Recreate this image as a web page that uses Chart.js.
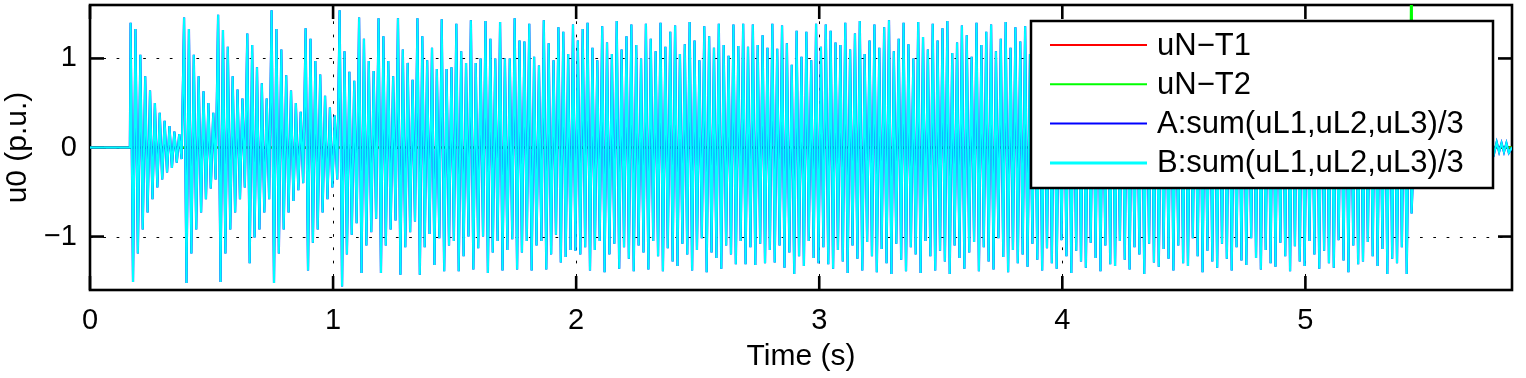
<!DOCTYPE html>
<html>
<head>
<meta charset="utf-8">
<script src="https://cdn.jsdelivr.net/npm/chart.js@4.4.1/dist/chart.umd.min.js"></script>
<style>
  html, body { margin: 0; padding: 0; background: #fff; }
  canvas { display: block; }
</style>
</head>
<body>
<canvas id="u0Chart" width="1526" height="378"></canvas>
<script>
const xTicks = [0, 1, 2, 3, 4, 5];
const yTicks = [-1, 0, 1];
const seriesLabels = ['uN\u2212T1', 'uN\u2212T2', 'A:sum(uL1,uL2,uL3)/3', 'B:sum(uL1,uL2,uL3)/3'];

// fault starts at ~0.167 s, 50 Hz -> one top and one bottom per 20 ms cycle
const faultStart = 0.167;
const cycle = 0.02;

// positive peak of each cycle
const peakTops = [
  1.40, 1.33, 1.04, 0.80, 0.64, 0.50, 0.39, 0.30, 0.24, 0.18, 0.15,
  1.46, 1.33, 1.04, 0.80, 0.63, 0.50, 0.39,
  1.49, 1.32, 1.13, 0.80, 0.65, 0.55,
  1.28, 1.15, 0.90, 0.72, 0.55,
  1.54, 1.33, 1.10, 0.81, 0.64, 0.50, 0.40,
  1.34, 1.22, 0.97, 0.82, 0.58, 0.45, 0.36,
  1.54, 1.08, 0.85, 0.75, 1.46, 1.22, 0.97, 0.86, 1.45, 1.25, 0.97, 0.80, 1.45, 1.10, 0.95, 0.76, 1.45, 1.25, 0.98, 1.12, 0.88,
  1.44, 0.88, 0.90, 1.39, 1.08, 0.95, 1.43, 0.95, 1.00, 1.42, 1.22, 1.00, 1.41, 1.00, 1.00,
  1.45, 1.20, 1.19, 1.39, 1.02, 0.92, 1.43, 1.17, 0.98, 1.35, 1.30, 1.05, 1.38, 1.20, 1.33,
  1.40, 1.12, 0.98, 1.36, 1.18, 1.05, 1.42, 1.10, 1.25, 1.38,
  1.15, 1.00, 1.39, 1.22, 1.08, 1.40, 1.13, 1.30, 1.37, 1.05,
  1.16, 1.41, 1.20, 0.98, 1.36, 1.25, 1.12, 1.39, 1.15, 1.03,
  1.38, 1.14, 1.39, 1.13, 1.38, 1.15, 1.26, 1.12, 1.39, 1.11,
  1.37, 1.17, 0.93, 1.31, 1.02, 1.30, 0.98, 1.39, 1.13, 1.38,
  1.31, 1.18, 1.15, 1.40, 1.10, 1.28, 1.42, 1.05, 1.20, 1.38,
  1.12, 1.35, 1.43, 1.08, 1.22, 1.40, 1.16, 1.00, 1.41, 1.24,
  1.10, 1.39, 1.20, 1.34, 1.42, 1.06, 1.18, 1.37, 1.26, 1.02,
  1.40, 1.15, 1.30, 1.38, 1.08, 1.22, 1.41, 1.12, 1.35, 1.19,
  1.36, 1.05, 1.27, 1.40, 1.14, 1.32, 1.38, 1.00, 1.24, 1.39,
  1.18, 1.30, 1.37, 1.10, 1.25, 1.40, 1.12, 1.33, 1.36, 1.06,
  1.28, 1.39, 1.15, 1.22, 1.38, 1.09, 1.30, 1.37, 1.14, 1.26,
  1.40, 1.11, 1.34, 1.36, 1.05, 1.24, 1.39, 1.17, 1.31, 1.38,
  1.08, 1.27, 1.40, 1.13, 1.29, 1.37, 1.02, 1.25, 1.39, 1.16,
  1.33, 1.38, 1.10, 1.26, 1.40, 1.14, 1.30, 1.36, 1.07, 1.23,
  1.39, 1.18, 1.32, 1.37, 1.04, 1.28, 1.40, 1.12, 1.35, 1.33,
  1.09, 1.26, 1.38, 1.15, 1.30, 1.36, 1.10, 1.24, 1.20, 0.95
];

// negative peak of each cycle
const peakBots = [
  -1.51, -1.19, -0.92, -0.73, -0.58, -0.45, -0.36, -0.28, -0.23, -0.17, -0.13,
  -1.52, -1.19, -0.92, -0.73, -0.58, -0.46, -0.36,
  -1.51, -1.19, -0.92, -0.73, -0.58, -0.45,
  -1.30, -1.01, -0.92, -0.73, -0.58,
  -1.52, -1.19, -0.92, -0.73, -0.60, -0.48, -0.40,
  -1.38, -1.07, -0.92, -0.73, -0.58, -0.45, -0.36,
  -1.56, -1.20, -0.98, -0.85, -1.41, -1.10, -0.95, -0.80, -1.41, -1.10, -0.92, -0.82, -1.43, -1.12, -0.95, -0.83, -1.43, -1.12, -0.97, -1.32, -1.02,
  -1.39, -1.10, -1.05, -1.39, -1.22, -1.00, -1.37, -1.13, -1.00, -1.41, -1.18, -1.05, -1.38, -1.15, -1.03,
  -1.37, -1.18, -1.05, -1.38, -1.10, -1.05, -1.37, -1.20, -0.98, -1.29, -1.23, -1.15, -1.16, -1.20, -1.12,
  -1.38, -1.15, -1.05, -1.40, -1.20, -1.08, -1.36, -1.12, -1.25, -1.39,
  -1.10, -1.18, -1.37, -1.05, -1.22, -1.39, -1.13, -1.28, -1.33, -1.08,
  -1.20, -1.38, -1.15, -1.02, -1.40, -1.18, -1.24, -1.36, -1.10, -1.20,
  -1.31, -1.05, -1.31, -1.12, -1.32, -1.08, -1.30, -1.15, -1.29, -1.10,
  -1.35, -1.18, -1.42, -1.22, -1.33, -1.05, -1.24, -1.30, -1.12, -1.31,
  -1.36, -1.15, -1.28, -1.41, -1.10, -1.25, -1.38, -1.06, -1.22, -1.40,
  -1.14, -1.30, -1.42, -1.08, -1.26, -1.39, -1.12, -1.20, -1.41, -1.05,
  -1.22, -1.38, -1.16, -1.28, -1.42, -1.10, -1.24, -1.36, -1.18, -1.06,
  -1.39, -1.12, -1.28, -1.37, -1.02, -1.23, -1.40, -1.15, -1.30, -1.20,
  -1.34, -1.08, -1.26, -1.38, -1.13, -1.30, -1.36, -1.04, -1.22, -1.41,
  -1.16, -1.28, -1.35, -1.07, -1.24, -1.39, -1.10, -1.31, -1.33, -1.05,
  -1.26, -1.37, -1.12, -1.20, -1.42, -1.08, -1.29, -1.34, -1.14, -1.25,
  -1.38, -1.10, -1.30, -1.33, -1.02, -1.22, -1.40, -1.16, -1.28, -1.35,
  -1.08, -1.25, -1.38, -1.12, -1.27, -1.32, -1.02, -1.24, -1.37, -1.15,
  -1.30, -1.34, -1.07, -1.22, -1.39, -1.11, -1.28, -1.33, -1.05, -1.20,
  -1.36, -1.16, -1.30, -1.35, -1.04, -1.27, -1.40, -1.10, -1.31, -1.28,
  -1.06, -1.22, -1.33, -1.14, -1.42, -1.25, -1.30, -1.12, -1.42, -0.74
];

// small ripple after the fault is cleared
const tailTops = [0.06, 0.05, 0.06, 0.05, 0.05, 0.06, 0.05, 0.05, 0.06, 0.05, 0.05, 0.06, 0.05, 0.05, 0.06, 0.05, 0.05, 0.06, 0.05, 0.05];
const tailBots = [-0.05, -0.06, -0.05, -0.05, -0.06, -0.05, -0.05, -0.06, -0.05, -0.05, -0.06, -0.05, -0.05, -0.06, -0.05, -0.05, -0.06, -0.05, -0.05, -0.06];

const endTime = 5.85;
const spikeTimes = [5.431, 5.436, 5.441];
const spikeValues = [0, 2.5, 0];

function buildSignal() {
  const pts = [{x: 0, y: 0}, {x: faultStart - 0.003, y: 0}];
  peakTops.forEach((v, k) => {
    pts.push({x: faultStart + k * cycle, y: v});
    pts.push({x: faultStart + k * cycle + cycle / 2, y: peakBots[k]});
  });
  const tailStart = faultStart + peakTops.length * cycle;
  tailTops.forEach((v, k) => {
    pts.push({x: tailStart + k * cycle, y: v});
    pts.push({x: tailStart + k * cycle + cycle / 2, y: tailBots[k]});
  });
  pts.push({x: endTime, y: 0});
  return pts;
}

const signal = buildSignal();
const greenLine = [{x: 0, y: 0}];
spikeTimes.forEach((t, i) => greenLine.push({x: t, y: spikeValues[i]}));
greenLine.push({x: endTime, y: 0});
const redLine = [{x: 0, y: 0}, {x: endTime, y: 0}];

const fontFamily = '"Liberation Sans", Arial, Helvetica, sans-serif';

// MATLAB style box, inward ticks and dotted grid
const matlabAxes = {
  id: 'matlabAxes',
  beforeDatasetsDraw(chart) {
    const {ctx, chartArea: a, scales: {x, y}} = chart;
    ctx.save();
    ctx.strokeStyle = '#000';
    ctx.lineWidth = 1;
    ctx.setLineDash([2.7, 10.6]);
    xTicks.forEach(v => {
      const px = Math.round(x.getPixelForValue(v)) + 0.5;
      ctx.beginPath(); ctx.moveTo(px, a.bottom); ctx.lineTo(px, a.top); ctx.stroke();
    });
    yTicks.forEach(v => {
      const py = Math.round(y.getPixelForValue(v)) + 0.5;
      ctx.beginPath(); ctx.moveTo(a.left, py); ctx.lineTo(a.right, py); ctx.stroke();
    });
    ctx.setLineDash([]);
    ctx.lineWidth = 2.6;
    const tl = 14;
    xTicks.forEach(v => {
      const px = x.getPixelForValue(v);
      ctx.beginPath(); ctx.moveTo(px, a.bottom); ctx.lineTo(px, a.bottom - tl); ctx.stroke();
      ctx.beginPath(); ctx.moveTo(px, a.top); ctx.lineTo(px, a.top + tl); ctx.stroke();
    });
    yTicks.forEach(v => {
      const py = y.getPixelForValue(v);
      ctx.beginPath(); ctx.moveTo(a.left, py); ctx.lineTo(a.left + tl, py); ctx.stroke();
      ctx.beginPath(); ctx.moveTo(a.right, py); ctx.lineTo(a.right - tl, py); ctx.stroke();
    });
    ctx.strokeRect(a.left, a.top, a.right - a.left, a.bottom - a.top);
    ctx.restore();
  }
};

const legendBox = {
  id: 'legendBox',
  afterDraw(chart) {
    const {ctx, chartArea: a} = chart;
    const right = a.right - 19, top = a.top + 16;
    const left = right - 462, bottom = top + 167;
    ctx.save();
    ctx.fillStyle = '#fff';
    ctx.fillRect(left, top, right - left, bottom - top);
    ctx.strokeStyle = '#000';
    ctx.lineWidth = 2.5;
    ctx.strokeRect(left, top, right - left, bottom - top);
    ctx.font = '31px ' + fontFamily;
    ctx.textBaseline = 'middle';
    ctx.textAlign = 'left';
    chart.data.datasets.forEach((ds, i) => {
      const cy = top + 24 + i * 39.3;
      ctx.strokeStyle = ds.borderColor;
      ctx.lineWidth = ds.legendWidth;
      ctx.beginPath(); ctx.moveTo(left + 19, cy); ctx.lineTo(left + 116, cy); ctx.stroke();
      ctx.fillStyle = '#000';
      ctx.fillText(ds.label, left + 126, cy + 1);
    });
    ctx.restore();
  }
};

new Chart(document.getElementById('u0Chart'), {
  type: 'line',
  data: {
    datasets: [
      { label: seriesLabels[0], data: redLine, borderColor: '#ff0000', borderWidth: 2, legendWidth: 2, order: 3 },
      { label: seriesLabels[1], data: greenLine, borderColor: '#00ff00', borderWidth: 2.2, legendWidth: 2, order: 2 },
      { label: seriesLabels[2], data: signal, borderColor: '#0000ff', borderWidth: 2.2, legendWidth: 2, order: 1 },
      { label: seriesLabels[3], data: signal, borderColor: '#00ffff', borderWidth: 2.0, legendWidth: 3, order: 0 }
    ]
  },
  options: {
    responsive: false,
    animation: false,
    parsing: false,
    normalized: true,
    layout: { padding: { top: 5, right: 14, left: 0, bottom: 0 } },
    elements: { point: { radius: 0 }, line: { tension: 0, fill: false } },
    plugins: { legend: { display: false }, tooltip: { enabled: false } },
    scales: {
      x: {
        type: 'linear', min: 0, max: endTime,
        afterBuildTicks: s => { s.ticks = xTicks.map(v => ({value: v})); },
        afterFit: s => { s.height = 88; s.paddingLeft = 0; s.paddingRight = 0; },
        grid: { display: false, drawTicks: false },
        border: { display: false },
        ticks: { color: '#000', font: { family: fontFamily, size: 29 }, padding: 14, maxRotation: 0, autoSkip: false },
        title: { display: true, text: 'Time (s)', color: '#000', font: { family: fontFamily, size: 30 }, padding: { top: 0, bottom: 3 } }
      },
      y: {
        type: 'linear', min: -1.6, max: 1.6,
        afterBuildTicks: s => { s.ticks = yTicks.map(v => ({value: v})); },
        afterFit: s => { s.width = 90; s.paddingTop = 0; s.paddingBottom = 0; },
        grid: { display: false, drawTicks: false },
        border: { display: false },
        ticks: { color: '#000', font: { family: fontFamily, size: 29 }, padding: 13,
          callback: v => v < 0 ? '\u2212' + Math.abs(v) : String(v) },
        title: { display: true, text: 'u0 (p.u.)', color: '#000', font: { family: fontFamily, size: 30 }, padding: { top: 0, bottom: 0 } }
      }
    }
  },
  plugins: [matlabAxes, legendBox]
});
</script>
</body>
</html>
